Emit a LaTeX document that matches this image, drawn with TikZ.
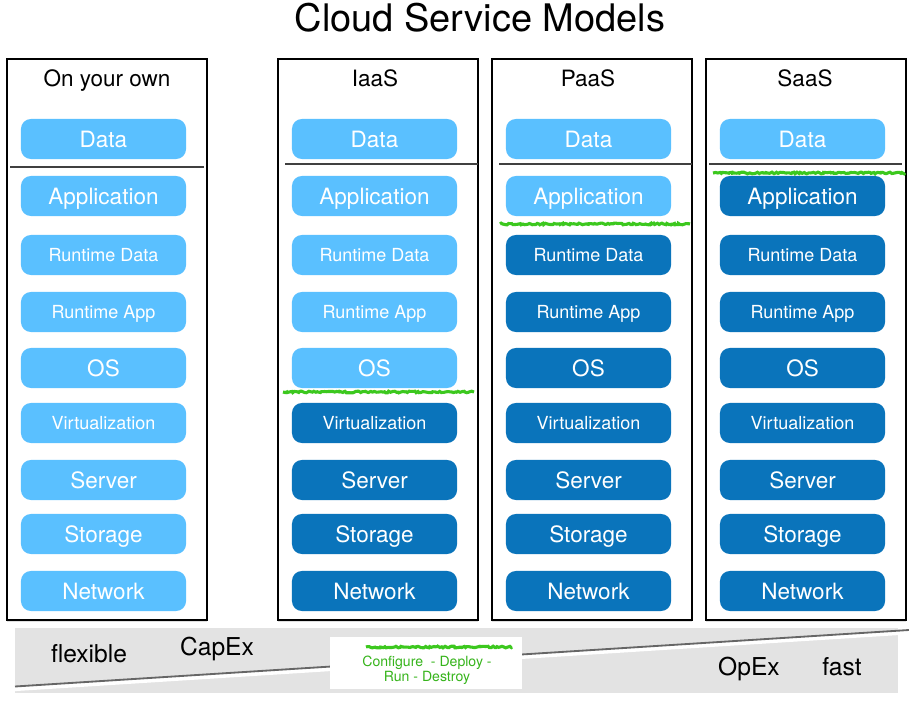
\documentclass[tikz,border=0pt]{standalone}
\usepackage{fontspec}
\setmainfont{TeX Gyre Heros}
\usetikzlibrary{decorations.pathmorphing,shadows}
\definecolor{lightblue}{HTML}{5AC0FF}
\definecolor{darkblue}{HTML}{0A74BB}
\definecolor{grassgreen}{HTML}{3CC81E}
\definecolor{bandgray}{HTML}{E3E3E3}

\tikzset{
  frame/.style={draw=black, line width=1.4pt, fill=white, minimum width=5cm, minimum height=14.025cm, inner sep=0pt,
    drop shadow={opacity=0.25, shadow xshift=0pt, shadow yshift=-1.5pt}},
  layer/.style={rounded corners=7pt, text=white, minimum width=4.125cm, minimum height=1cm, inner sep=0pt, text depth=0pt},
  lightfill/.style={fill=lightblue},
  darkfill/.style={fill=darkblue},
  layerbig/.style={font=\fontsize{16}{18}\selectfont, text height=11.5pt},
  layersmall/.style={font=\fontsize{12.8}{15}\selectfont, text height=9.2pt},
  header/.style={font=\fontsize{16}{18}\selectfont, text height=11.5pt, text depth=0pt},
  sepline/.style={draw=black!75, line width=1.3pt},
  grassline/.style={draw=grassgreen, line width=2.2pt, decorate, decoration={random steps, segment length=1.2pt, amplitude=0.6pt}},
  tradeoff/.style={font=\fontsize{17.5}{20}\selectfont, text height=12.6pt, text depth=0pt}
}

\begin{document}
\begin{tikzpicture}[x=0.025cm, y=-0.025cm]
        \useasboundingbox (0,0) rectangle (909,701);
        \node[font=\fontsize{27}{30}\selectfont, text height=19.4pt, text depth=0pt] (title) at (480,18) {Cloud Service Models};

        % the four columns
        \node[frame] (own)  at (107,339.5) {};
        \node[frame] (iaas) at (378,339.5) {};
        \node[frame] (paas) at (592,339.5) {};
        \node[frame] (saas) at (806,339.5) {};
        \node[header] (ownhead)  at (107,78) {On your own};
        \node[header] (iaashead) at (375,78) {IaaS};
        \node[header] (paashead) at (588,78) {PaaS};
        \node[header] (saashead) at (805,78) {SaaS};

        % layers, dark from the row where the provider takes over
        \foreach \col/\xx/\dark in {own/103.5/10, iaas/374.5/6, paas/588.5/3, saas/802.5/2}{
          \foreach \lbl/\yy/\sz [count=\r] in {Data/139/layerbig, Application/196/layerbig,
              Runtime Data/255/layersmall, Runtime App/312/layersmall, OS/368/layerbig,
              Virtualization/423/layersmall, Server/480/layerbig, Storage/534/layerbig, Network/591/layerbig}{
            \ifnum\r<\dark \def\tone{lightfill}\else\def\tone{darkfill}\fi
            \node[layer, \tone, \sz] (\col-\r) at (\xx,\yy) {\lbl};
          }
        }

        % data separator
        \draw[sepline] (10,167) -- (204,167);
        \draw[sepline] (285,164) -- (478,164);
        \draw[sepline] (499,164) -- (692,164);
        \draw[sepline] (709,164) -- (902,164);

        % responsibility borders
        \draw[grassline] (283,392) -- (474,392);
        \draw[grassline] (500,224) -- (690,224);
        \draw[grassline] (713,173) -- (905,173);

        % bottom band
        \fill[bandgray] (15,628) rectangle (898,693);
        \draw[white, line width=3pt] (15,689) -- (898,633);
        \draw[black!60, line width=1.3pt] (15,686.5) -- (909,630);
        \node[fill=white, minimum width=4.8cm, minimum height=1.3cm, inner sep=0pt] (cycle) at (426,663) {};
        \draw[grassline] (366,647) -- (512,647);
        \node[text=grassgreen!90!black, align=center, font=\fontsize{10}{10.7}\selectfont] (cycletext) at (427,670)
          {Configure\ \ - Deploy -\\Run - Destroy};
        \node[tradeoff] (flexible) at (89,654) {flexible};
        \node[tradeoff] (capex) at (217,647) {CapEx};
        \node[tradeoff] (opex) at (749,667) {OpEx};
        \node[tradeoff] (fast) at (842,667) {fast};
\end{tikzpicture}
\end{document}
